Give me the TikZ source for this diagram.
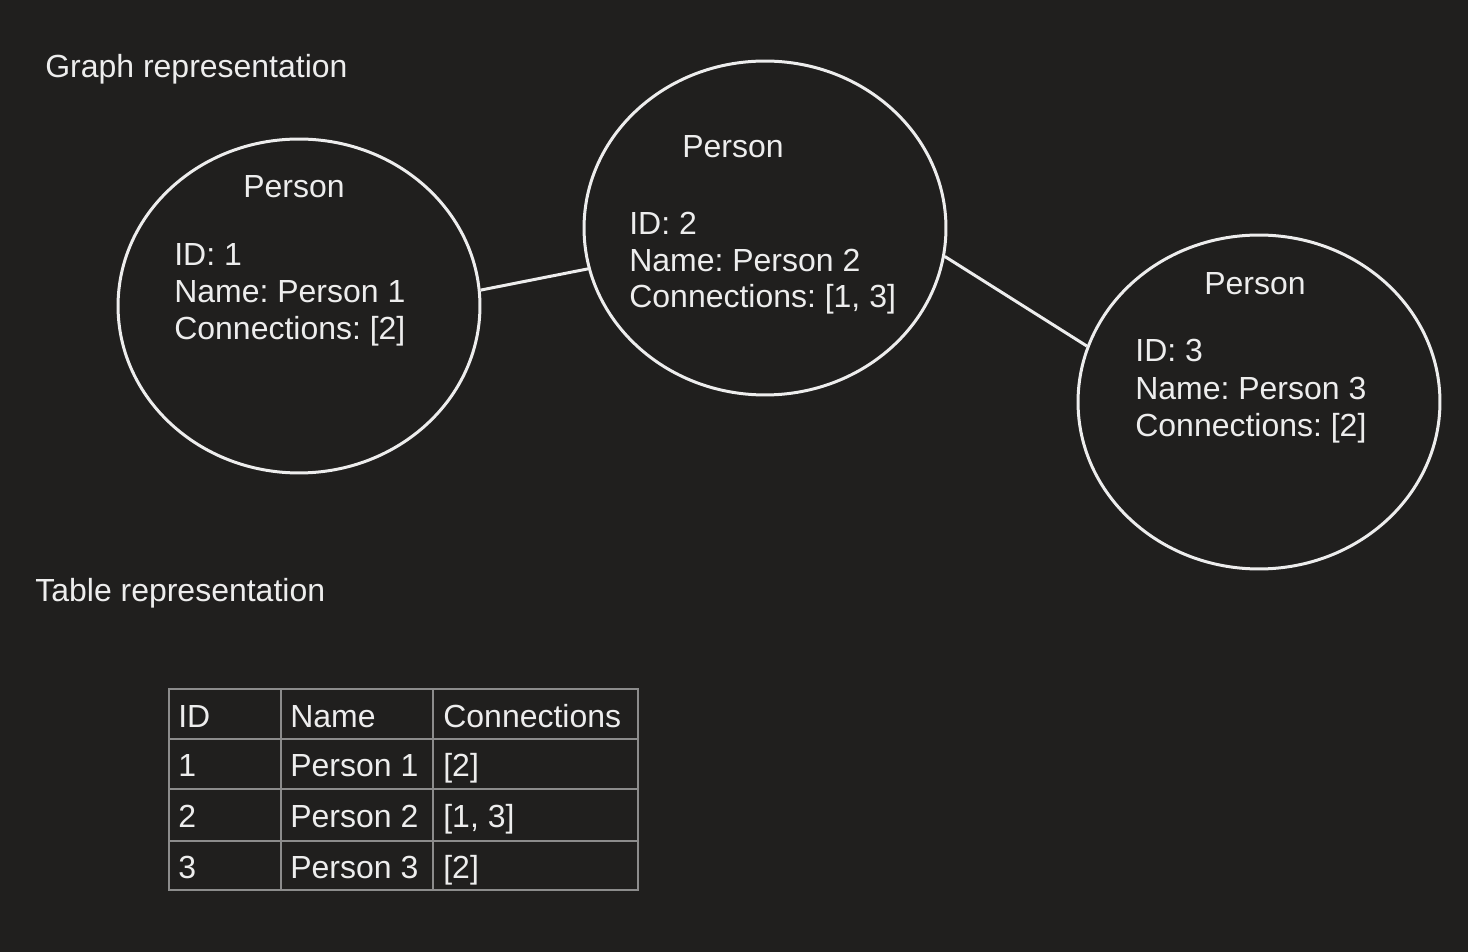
\documentclass[tikz,border=0pt]{standalone}
\usepackage{fontspec}
\setmainfont{Liberation Sans}
\usetikzlibrary{shapes.geometric}
\frenchspacing
\definecolor{bg}{HTML}{201F1E}
\definecolor{ink}{HTML}{EDEDED}
\definecolor{rulegray}{HTML}{8C8C8C}
\tikzset{
  person/.style={draw=ink, line width=0.06cm, ellipse, minimum width=7.24cm, minimum height=6.68cm, inner sep=0pt},
  txt/.style={text=ink, font=\fontsize{18.2}{21}\selectfont, inner sep=0pt, anchor=base west},
  head/.style={txt, anchor=base},
  link/.style={draw=ink, line width=0.06cm},
  cellrule/.style={draw=rulegray, line width=0.04cm},
}
\begin{document}
\begin{tikzpicture}[x=0.02cm,y=-0.02cm]
		%%%%% BACKGROUND %%%%%
		\fill[bg] (0,0) rectangle (1468,952);
		\useasboundingbox (0,0) rectangle (1468,952);
		
		%%%%% GRAPH %%%%%
		\node[txt] (graphtitle) at (45, 78) {Graph representation};
		
		\node[person] (p1) at (299, 306) {};
		\node[head] (p1head) at (294, 198) {Person};
		\node[txt] (p1id) at (174, 266) {ID: 1};
		\node[txt] (p1name) at (174, 303) {Name: Person 1};
		\node[txt] (p1conn) at (174, 340) {Connections: [2]};
		
		\node[person] (p2) at (765, 228) {};
		\node[head] (p2head) at (733, 158) {Person};
		\node[txt] (p2id) at (629, 235) {ID: 2};
		\node[txt] (p2name) at (629, 272) {Name: Person 2};
		\node[txt] (p2conn) at (629, 308) {Connections: [1, 3]};
		
		\node[person] (p3) at (1259, 402) {};
		\node[head] (p3head) at (1255, 295) {Person};
		\node[txt] (p3id) at (1135, 362) {ID: 3};
		\node[txt] (p3name) at (1135, 400) {Name: Person 3};
		\node[txt] (p3conn) at (1135, 437) {Connections: [2]};
		
		\draw[link] (p1.5) -- (p2.193);
		\draw[link] (p2.351) -- (p3.162);
		
		%%%%% TABLE %%%%%
		\node[txt] (tabletitle) at (35, 602) {Table representation};
		
		\draw[cellrule] (169, 689) rectangle (638, 890);
		\draw[cellrule] (281, 689) -- (281, 890);
		\draw[cellrule] (433, 689) -- (433, 890);
		\foreach \y in {739, 789, 841}
			\draw[cellrule] (169, \y) -- (638, \y);
		
		\node[txt] (hid) at (178, 727) {ID};
		\node[txt] (hname) at (290, 727) {Name};
		\node[txt] (hconn) at (443, 727) {Connections};
		\foreach \i/\y/\c in {1/776/{[2]}, 2/827/{[1, 3]}, 3/878/{[2]}} {
			\node[txt] (rid\i) at (178, \y) {\i};
			\node[txt] (rname\i) at (290, \y) {Person \i};
			\node[txt] (rconn\i) at (443, \y) {\c};
		}
\end{tikzpicture}
\end{document}
